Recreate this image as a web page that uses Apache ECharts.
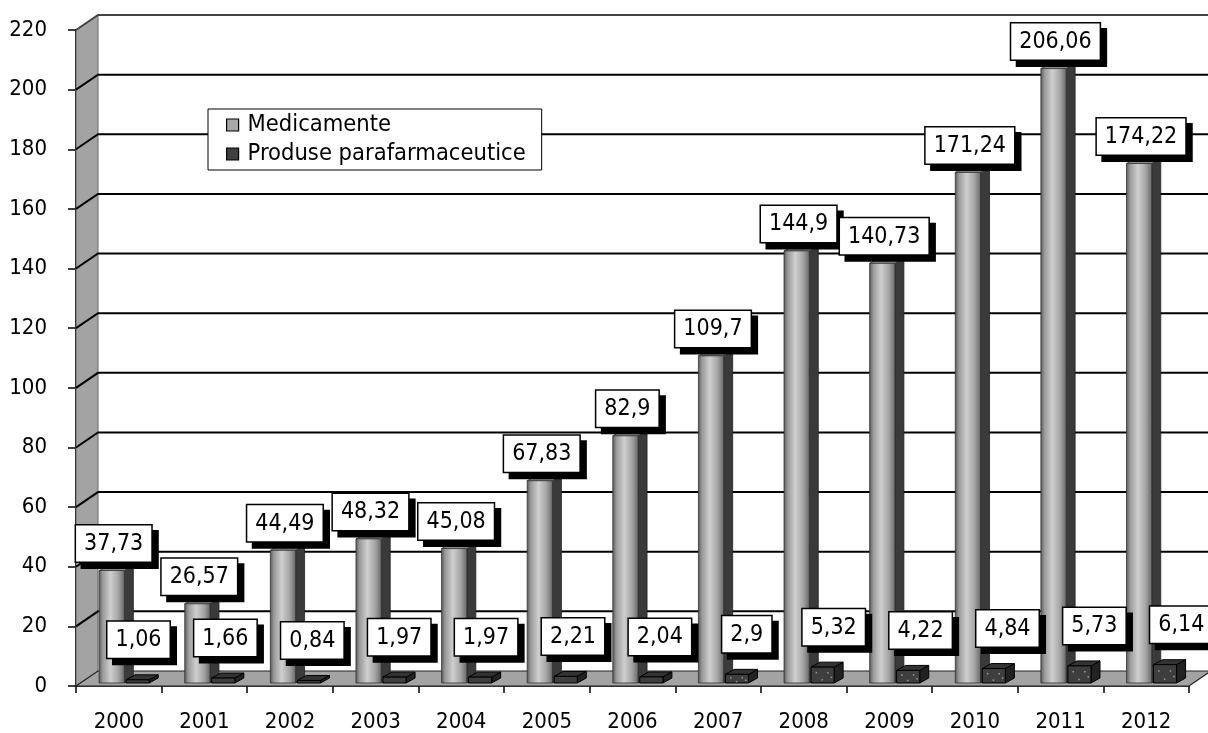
<!DOCTYPE html>
<html><head><meta charset="utf-8">
<script src="https://cdn.jsdelivr.net/npm/echarts@6/dist/echarts.min.js"></script>
<style>html,body{margin:0;padding:0;background:#fff}#c{width:1208px;height:733px}</style>
</head><body><div id="c"></div>
<script>
// ---- data ----
const years = ['2000','2001','2002','2003','2004','2005','2006','2007','2008','2009','2010','2011','2012'];
const medicamente = [37.73, 26.57, 44.49, 48.32, 45.08, 67.83, 82.9, 109.7, 144.9, 140.73, 171.24, 206.06, 174.22];
const parafarmaceutice = [1.06, 1.66, 0.84, 1.97, 1.97, 2.21, 2.04, 2.9, 5.32, 4.22, 4.84, 5.73, 6.14];
const seriesNames = ['Medicamente', 'Produse parafarmaceutice'];
const yMin = 0, yMax = 220, yStep = 20;

// ---- style ----
const FONT = "'DejaVu Sans Condensed','DejaVu Sans',sans-serif";
const DX = 22, DY = 15;     // wall depth
const BD = 9, BE = 5;       // bar depth
const fmt = v => String(v).replace('.', ',');

const labelStyle = (text) => ({
  text, fontFamily: FONT, fontSize: 23, lineHeight: 25, fill: '#000',
  align: 'center', verticalAlign: 'bottom',
  backgroundColor: '#fff', borderColor: '#000', borderWidth: 1.5,
  padding: [6, 8, 5, 8],
  shadowColor: '#000', shadowBlur: 0, shadowOffsetX: 6, shadowOffsetY: 6
});

function frameItem(params, api) {
  const cs = params.coordSys;
  const L = cs.x, T = cs.y, R = cs.x + cs.width, B = cs.y + cs.height;
  const ch = [];
  ch.push({type: 'polygon', shape: {points: [[L, B], [L, T], [L + DX, T - DY], [L + DX, B - DY]]},
    style: {fill: '#a3a3a3', stroke: '#666', lineWidth: 1}});
  ch.push({type: 'polygon', shape: {points: [[L, B], [L + DX, B - DY], [R + DX, B - DY], [R, B]]},
    style: {fill: '#a3a3a3', stroke: '#222', lineWidth: 1.2}});
  for (let v = yMin + yStep; v <= yMax; v += yStep) {
    const y = api.coord([0, v])[1];
    ch.push({type: 'polyline', shape: {points: [[L, y], [L + DX, y - DY], [R + DX + 40, y - DY]]},
      style: {stroke: v === yMax ? '#444' : '#000', lineWidth: 2, fill: null}});
  }
  return {type: 'group', children: ch};
}

function medItem(params, api) {
  const i = api.value(0), v = api.value(1);
  const bw = api.size([1, 0])[0];
  const c0 = api.coord([i, 0]), c1 = api.coord([i, v]);
  const start = c0[0] - bw / 2;
  const x0 = start + 0.27 * bw, x1 = start + 0.565 * bw;
  const yB = c0[1] - 3, yT = c1[1] - 3;
  return {type: 'group', children: [
    {type: 'polygon', shape: {points: [[x1, yT], [x1 + BD, yT - BE], [x1 + BD, yB - BE], [x1, yB]]},
      style: {fill: '#3a3a3a', stroke: '#222', lineWidth: 0.8}},
    {type: 'polygon', shape: {points: [[x0, yT], [x1, yT], [x1 + BD, yT - BE], [x0 + BD, yT - BE]]},
      style: {fill: '#8c8c8c', stroke: '#333', lineWidth: 0.8}},
    {type: 'rect', shape: {x: x0, y: yT, width: x1 - x0, height: yB - yT},
      style: {fill: new echarts.graphic.LinearGradient(0, 0, 1, 0, [
        {offset: 0, color: '#555'}, {offset: 0.15, color: '#999'}, {offset: 0.45, color: '#cfcfcf'},
        {offset: 0.75, color: '#a5a5a5'}, {offset: 1, color: '#666'}]), stroke: '#333', lineWidth: 0.8}},
    {type: 'text', x: start + 0.44 * bw, y: yT - 9, style: labelStyle(fmt(v)), z2: 100}
  ]};
}

function paraItem(params, api) {
  const i = api.value(0), v = api.value(1);
  const bw = api.size([1, 0])[0];
  const c0 = api.coord([i, 0]), c1 = api.coord([i, v]);
  const start = c0[0] - bw / 2;
  const x0 = start + 0.585 * bw, x1 = start + 0.855 * bw;
  const yB = c0[1] - 3, yT = c1[1] - 3;
  const ch = [
    {type: 'polygon', shape: {points: [[x1, yT], [x1 + BD, yT - BE], [x1 + BD, yB - BE], [x1, yB]]},
      style: {fill: '#222', stroke: '#000', lineWidth: 1}},
    {type: 'polygon', shape: {points: [[x0, yT], [x1, yT], [x1 + BD, yT - BE], [x0 + BD, yT - BE]]},
      style: {fill: '#333', stroke: '#000', lineWidth: 1}},
    {type: 'rect', shape: {x: x0, y: yT, width: x1 - x0, height: yB - yT},
      style: {fill: '#3e3e3e', stroke: '#000', lineWidth: 1}}
  ];
  if (yB - yT > 8) {
    const w = x1 - x0, h = yB - yT;
    [[0.2, 0.3], [0.7, 0.3], [0.45, 0.75], [0.85, 0.6]].forEach(p => ch.push({type: 'rect',
      shape: {x: x0 + p[0] * w, y: yT + p[1] * h, width: 1.5, height: 1.5}, style: {fill: '#9a9a9a'}}));
  }
  // perspective drift of the label across the depth of the chart
  ch.push({type: 'text', x: start + (0.73 + 0.015 * i) * bw, y: yT - 22, style: labelStyle(fmt(v)), z2: 100});
  return {type: 'group', children: ch};
}

const chart = echarts.init(document.getElementById('c'), null, {renderer: 'canvas'});
chart.setOption({
  animation: false,
  backgroundColor: '#fff',
  grid: {left: 76, right: 19, top: 30, bottom: 46, containLabel: false},
  legend: {
    show: true, orient: 'vertical', left: 208, top: 109,
    backgroundColor: '#fff', borderColor: '#000', borderWidth: 1,
    padding: [4, 16, 4, 18], itemGap: 5, itemWidth: 12, itemHeight: 12,
    icon: 'rect',
    textStyle: {fontFamily: FONT, fontSize: 23.5, color: '#000', padding: [0, 0, 0, 4]},
    data: [
      {name: seriesNames[0], itemStyle: {color: '#a8a8a8', borderColor: '#000', borderWidth: 1.2}},
      {name: seriesNames[1], itemStyle: {color: '#404040', borderColor: '#000', borderWidth: 1.2}}
    ],
    z: 50
  },
  xAxis: {
    type: 'category', data: years,
    axisLine: {show: true, lineStyle: {color: '#000', width: 1.5}},
    axisTick: {show: true, alignWithLabel: false, length: 7, lineStyle: {color: '#000', width: 1.5}},
    axisLabel: {fontFamily: FONT, fontSize: 22, color: '#000', margin: 25},
    splitLine: {show: false}
  },
  yAxis: {
    type: 'value', min: yMin, max: yMax, interval: yStep,
    axisLine: {show: true, lineStyle: {color: '#000', width: 2}},
    axisTick: {show: true, length: 8, lineStyle: {color: '#000', width: 1.5}},
    axisLabel: {fontFamily: FONT, fontSize: 22, color: '#000', margin: 29},
    splitLine: {show: false}
  },
  series: [
    {type: 'custom', name: '__frame', silent: true, renderItem: frameItem, data: [[0, 0]], z: 1},
    {type: 'custom', name: seriesNames[0], renderItem: medItem, itemStyle: {color: '#a8a8a8'},
      data: years.map((y, i) => [i, medicamente[i]]), z: 3},
    {type: 'custom', name: seriesNames[1], renderItem: paraItem, itemStyle: {color: '#404040'},
      data: years.map((y, i) => [i, parafarmaceutice[i]]), z: 4}
  ]
});
</script>
</body></html>
